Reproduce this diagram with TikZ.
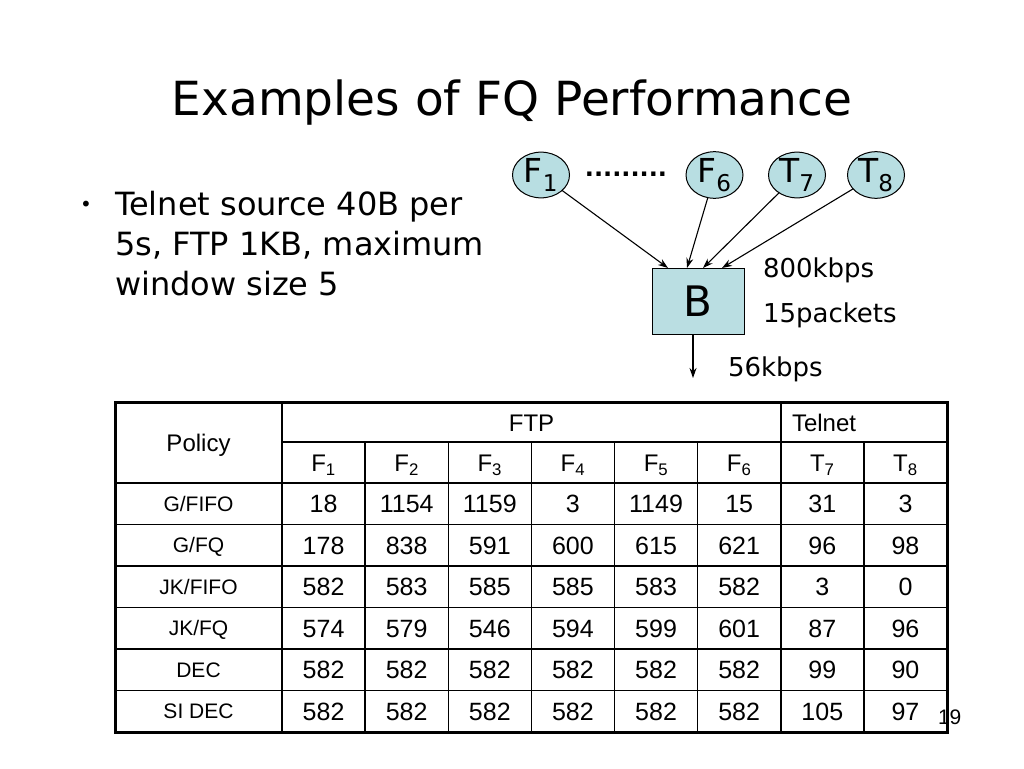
\documentclass[tikz,border=0pt]{standalone}
\usepackage{fontspec}
\setmainfont{DejaVu Sans}
\newfontfamily\tabfont{Liberation Sans}
\usetikzlibrary{shapes.geometric,arrows.meta}
\definecolor{srcfill}{RGB}{184,222,226}
\definecolor{boxfill}{RGB}{186,222,226}
\begin{document}
\begin{tikzpicture}[x=1pt,y=-1pt,
  every node/.style={inner sep=0pt,outer sep=0pt},
  src/.style={ellipse,draw,line width=1pt,fill=srcfill,minimum width=57pt,minimum height=44pt,font=\fontsize{33}{33}\selectfont},
  buf/.style={rectangle,draw,line width=1pt,fill=boxfill,minimum width=92pt,minimum height=66pt,font=\fontsize{42}{42}\selectfont},
  arr/.style={-{Stealth[length=10pt,width=7pt]},line width=1.1pt},
  lbl/.style={anchor=base west,font=\fontsize{26}{26}\selectfont},
  txt/.style={anchor=base west,font=\fontsize{32}{32}\selectfont},
  num/.style={anchor=base,font=\tabfont\fontsize{25}{25}\selectfont},
  pol/.style={anchor=base,font=\tabfont\fontsize{21}{21}\selectfont},
  hdr/.style={anchor=base,font=\tabfont\fontsize{24}{24}\selectfont},
  thinln/.style={line width=1.4pt},
  thickln/.style={line width=3pt}
]
\useasboundingbox[fill=white] (0,0) rectangle (1024,768);

% title and bullet
\node[anchor=base,font=\fontsize{47}{47}\selectfont] (title) at (512,115) {Examples of FQ Performance};
\node[anchor=base,font=\fontsize{20}{20}\selectfont] (bul) at (86,211) {•};
\node[txt] (bl1) at (115,215) {Telnet source 40B per};
\node[txt] (bl2) at (115,255) {5s, FTP 1KB, maximum};
\node[txt] (bl3) at (115,295) {window size 5};

% diagram
\node[src] (f1) at (541,175) {F\textsubscript{1}};
\node[src] (f6) at (714.5,175) {F\textsubscript{6}};
\node[src] (t7) at (797,175) {T\textsubscript{7}};
\node[src] (t8) at (876,175) {T\textsubscript{8}};
\node[anchor=base,font=\fontsize{24}{24}\selectfont\bfseries] (dots) at (626,176) {.........};
\node[buf] (b) at (698,301) {B};
\coordinate (in1) at (668,268);
\coordinate (in6) at (687,268);
\coordinate (in7) at (703,268);
\coordinate (in8) at (722,268);
\draw[arr] (f1) -- (in1);
\draw[arr] (f6) -- (in6);
\draw[arr] (t7) -- (in7);
\draw[arr] (t8) -- (in8);
\coordinate (out) at (693,378);
\draw[arr] (b.south -| out) -- (out);
\node[lbl] (bw) at (763,277) {800kbps};
\node[lbl] (bs) at (763,322) {15packets};
\node[lbl] (ob) at (728,376) {56kbps};

% page number
\node[anchor=base west,font=\tabfont\fontsize{21}{21}\selectfont] (pg) at (938,724) {19};

% table lines
\draw[thinln] (282,402) -- (282,732);
\draw[thinln] (282,442) -- (947,442);
\draw[thinln] (781,402) -- (781,732);
\foreach \k in {0,...,5} \draw[thinln] (115,{483+41.5*\k}) -- (947,{483+41.5*\k});
\foreach \c in {1,...,7} \draw[thinln] ({282+83.125*\c},442) -- ({282+83.125*\c},732);
\draw[thickln] (115,402) rectangle (947,732);

% table headers
\node[hdr] (hpol) at (198.5,451) {Policy};
\node[hdr] (hftp) at (531.5,431) {FTP};
\node[hdr,anchor=base west] (htel) at (792,431) {Telnet};
\foreach \h [count=\c] in {F\textsubscript{1},F\textsubscript{2},F\textsubscript{3},F\textsubscript{4},F\textsubscript{5},F\textsubscript{6},T\textsubscript{7},T\textsubscript{8}}
  \node[hdr] (h\c) at ({282+83.125*(\c-0.5)},471.6) {\h};

% table body
\node[pol] (p1) at (198.5,511.25) {G/FIFO};
\node[pol] (p2) at (198.5,552.75) {G/FQ};
\node[pol] (p3) at (198.5,594.25) {JK/FIFO};
\node[pol] (p4) at (198.5,635.75) {JK/FQ};
\node[pol] (p5) at (198.5,677.25) {DEC};
\node[pol] (p6) at (198.5,718.75) {SI DEC};
\foreach \v [count=\c] in {18,1154,1159,3,1149,15,31,3}
  \node[num] (r1c\c) at ({282+83.125*(\c-0.5)},512.75) {\v};
\foreach \v [count=\c] in {178,838,591,600,615,621,96,98}
  \node[num] (r2c\c) at ({282+83.125*(\c-0.5)},554.25) {\v};
\foreach \v [count=\c] in {582,583,585,585,583,582,3,0}
  \node[num] (r3c\c) at ({282+83.125*(\c-0.5)},595.75) {\v};
\foreach \v [count=\c] in {574,579,546,594,599,601,87,96}
  \node[num] (r4c\c) at ({282+83.125*(\c-0.5)},637.25) {\v};
\foreach \v [count=\c] in {582,582,582,582,582,582,99,90}
  \node[num] (r5c\c) at ({282+83.125*(\c-0.5)},678.75) {\v};
\foreach \v [count=\c] in {582,582,582,582,582,582,105,97}
  \node[num] (r6c\c) at ({282+83.125*(\c-0.5)},720.25) {\v};
\end{tikzpicture}
\end{document}
